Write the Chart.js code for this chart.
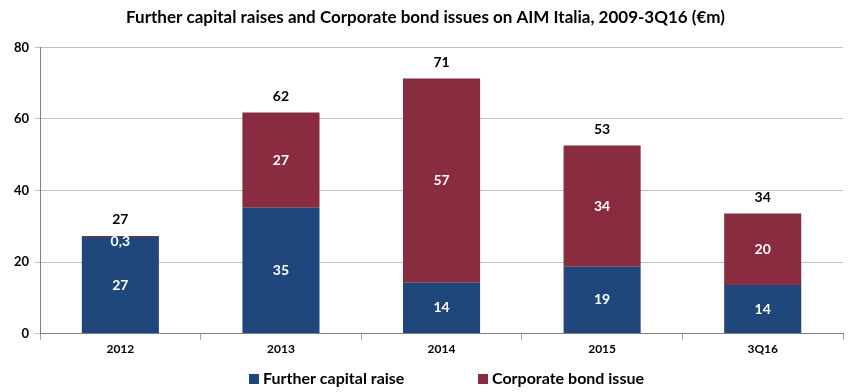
<!DOCTYPE html>
<html>
<head>
<meta charset="utf-8">
<script src="https://cdn.jsdelivr.net/npm/chart.js@4.4.1/dist/chart.umd.min.js"></script>
<style>
  html, body { margin: 0; padding: 0; background: #ffffff; }
  #wrap { width: 850px; height: 392px; position: relative; }
</style>
</head>
<body>
<div id="wrap"><canvas id="c" width="850" height="392"></canvas></div>
<script>
const categories = ['2012', '2013', '2014', '2015', '3Q16'];
const furtherCapitalRaise = [27.0, 35.2, 14.2, 18.7, 13.6];
const corporateBondIssue = [0.3, 26.6, 57.1, 33.9, 20.0];
const yTicks = [0, 20, 40, 60, 80];

const FONT = 'Lato, "Open Sans", sans-serif';

function fmt(v) {
  if (v < 1) return String(v).replace('.', ',');
  return String(Math.round(v));
}

const labelPlugin = {
  id: 'barLabels',
  afterDatasetsDraw(chart) {
    const ctx = chart.ctx;
    ctx.save();
    ctx.textAlign = 'center';
    ctx.textBaseline = 'middle';
    ctx.font = 'bold 14px ' + FONT;
    const m0 = chart.getDatasetMeta(0);
    const m1 = chart.getDatasetMeta(1);
    const ys = chart.scales.y;
    categories.forEach((c, i) => {
      const b0 = m0.data[i], b1 = m1.data[i];
      ctx.fillStyle = '#ffffff';
      ctx.fillText(fmt(furtherCapitalRaise[i]), b0.x, (b0.y + b0.base) / 2);
      const midRed = corporateBondIssue[i] < 1 ? b1.y + 6 : (b1.y + b1.base) / 2;
      ctx.fillText(fmt(corporateBondIssue[i]), b1.x, midRed);
      const total = furtherCapitalRaise[i] + corporateBondIssue[i];
      ctx.fillStyle = '#000000';
      ctx.fillText(String(Math.round(total)), b1.x, ys.getPixelForValue(total) - 16);
    });
    ctx.restore();
  }
};

const legendPlugin = {
  id: 'customLegend',
  afterDraw(chart) {
    const ctx = chart.ctx;
    ctx.save();
    ctx.font = 'bold 16px ' + FONT;
    ctx.textBaseline = 'middle';
    ctx.textAlign = 'left';
    const y = 379;
    const startX = [249, 478];
    chart.data.datasets.forEach((ds, i) => {
      const x = startX[i];
      ctx.fillStyle = ds.backgroundColor;
      ctx.fillRect(x, y - 5, 10, 10);
      ctx.fillStyle = '#000000';
      ctx.fillText(ds.label, x + 14, y);
    });
    ctx.restore();
  }
};

new Chart(document.getElementById('c'), {
  type: 'bar',
  data: {
    labels: categories,
    datasets: [
      { label: 'Further capital raise', data: furtherCapitalRaise, backgroundColor: '#1f477b', borderWidth: 0 },
      { label: 'Corporate bond issue', data: corporateBondIssue, backgroundColor: '#8a2c3f', borderWidth: 0 }
    ]
  },
  options: {
    responsive: false,
    animation: false,
    devicePixelRatio: 1,
    layout: { padding: { left: 8, right: 7, top: 0, bottom: 34 } },
    datasets: { bar: { categoryPercentage: 1.0, barPercentage: 0.48 } },
    plugins: {
      title: {
        display: true,
        text: 'Further capital raises and Corporate bond issues on AIM Italia, 2009-3Q16 (€m)',
        color: '#000000',
        font: { family: FONT, size: 17, weight: 'bold' },
        padding: { top: 7, bottom: 20 }
      },
      legend: { display: false },
      tooltip: { enabled: false }
    },
    scales: {
      x: {
        stacked: true,
        offset: true,
        grid: { offset: true, drawOnChartArea: false, drawTicks: true, tickLength: 6, color: '#a0a0a0' },
        border: { color: '#808080', width: 1 },
        ticks: { color: '#000000', font: { family: FONT, size: 12, weight: 'bold' }, padding: 2 }
      },
      y: {
        stacked: true,
        min: 0, max: 80,
        afterBuildTicks(axis) { axis.ticks = yTicks.map(v => ({ value: v })); },
        grid: { color: '#c0c0c0', lineWidth: 1, tickLength: 5, drawTicks: true },
        border: { color: '#808080', width: 1 },
        ticks: { color: '#000000', font: { family: FONT, size: 13, weight: 'bold' }, padding: 6 }
      }
    }
  },
  plugins: [labelPlugin, legendPlugin]
});
</script>
</body>
</html>
